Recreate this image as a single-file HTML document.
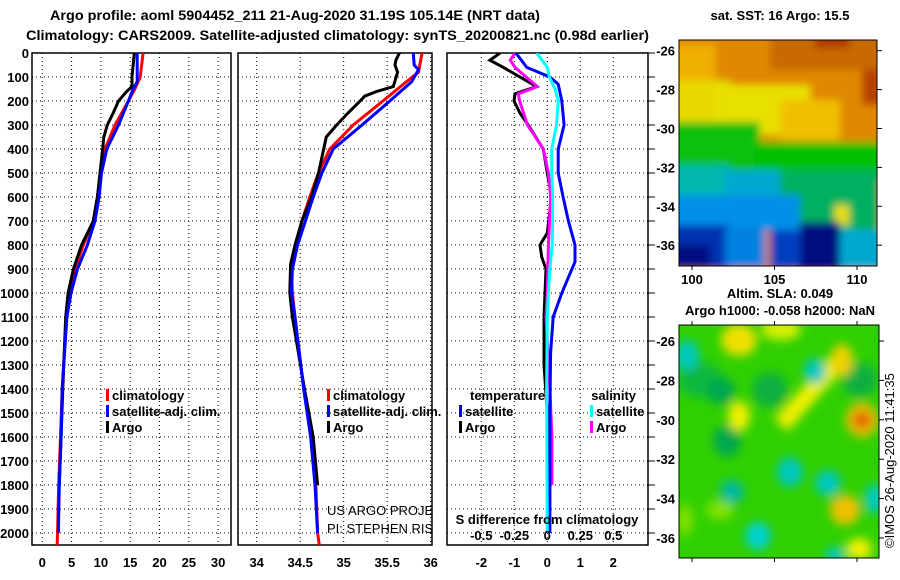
<!DOCTYPE html>
<html><head><meta charset="utf-8"><style>
html,body{margin:0;padding:0;background:#fff;}
svg{display:block;font-family:"Liberation Sans",sans-serif;}
.b{font-weight:bold;font-size:13px;}
</style></head><body>
<svg id="chart" width="900" height="580" viewBox="0 0 900 580" xmlns="http://www.w3.org/2000/svg">
<defs>
<filter id="blur1" x="-10%" y="-10%" width="120%" height="120%"><feGaussianBlur stdDeviation="4"/></filter>
<filter id="blur2" x="-10%" y="-10%" width="120%" height="120%"><feGaussianBlur stdDeviation="5"/></filter>
<clipPath id="cm1"><rect x="679" y="40" width="198" height="226"/></clipPath>
<clipPath id="cm2"><rect x="679" y="325" width="200" height="233"/></clipPath>
<clipPath id="cp1"><rect x="32" y="53" width="199" height="492"/></clipPath>
<clipPath id="cp2"><rect x="238" y="53" width="195" height="492"/></clipPath>
<clipPath id="cp3"><rect x="447" y="53" width="201" height="492"/></clipPath>
</defs>
<text x="50" y="20" class="b" style="font-size:14px" textLength="490" lengthAdjust="spacingAndGlyphs">Argo profile: aoml 5904452_211 21-Aug-2020 31.19S 105.14E (NRT data)</text>
<text x="26" y="40" class="b" style="font-size:14px" textLength="623" lengthAdjust="spacingAndGlyphs">Climatology: CARS2009. Satellite-adjusted climatology: synTS_20200821.nc (0.98d earlier)</text>

<!-- SST map -->
<g clip-path="url(#cm1)">
<g filter="url(#blur1)">
<rect x="670" y="30" width="220" height="250" fill="#e08800"/>
<rect x="770" y="30" width="120" height="40" fill="#c86a00"/>
<rect x="815" y="30" width="35" height="18" fill="#b03800"/>
<rect x="862" y="70" width="20" height="35" fill="#b84000"/>
<rect x="670" y="45" width="45" height="40" fill="#f0b000"/>
<rect x="670" y="80" width="60" height="50" fill="#e8d800"/>
<rect x="715" y="85" width="95" height="50" fill="#e8e000"/>
<rect x="780" y="100" width="60" height="40" fill="#f0c000"/>
<rect x="670" y="122" width="90" height="60" fill="#10c010"/>
<rect x="755" y="142" width="130" height="40" fill="#00c000"/>
<rect x="670" y="165" width="60" height="35" fill="#00b8b0"/>
<rect x="725" y="170" width="60" height="30" fill="#00a8d0"/>
<rect x="780" y="170" width="100" height="60" fill="#00b060"/>
<rect x="670" y="195" width="130" height="35" fill="#0090e8"/>
<rect x="835" y="205" width="14" height="20" fill="#e8e000"/>
<rect x="670" y="225" width="60" height="45" fill="#0030b0"/>
<rect x="670" y="245" width="40" height="25" fill="#001080"/>
<rect x="725" y="228" width="40" height="40" fill="#0080e0"/>
<rect x="770" y="230" width="30" height="40" fill="#0040c0"/>
<rect x="800" y="222" width="40" height="50" fill="#001080"/>
<rect x="840" y="230" width="45" height="40" fill="#00a8d0"/>
</g></g>
<rect x="679" y="40" width="198" height="226" fill="none" stroke="#000" stroke-width="1"/>
<text x="780" y="20" class="b" text-anchor="middle">sat. SST: 16 Argo: 15.5</text>

<!-- SLA map -->
<g clip-path="url(#cm2)">
<rect x="670" y="315" width="220" height="250" fill="#30d000"/>
<g filter="url(#blur2)">
<ellipse cx="700" cy="380" rx="22" ry="18" fill="#10b840"/>
<ellipse cx="721" cy="391" rx="14" ry="14" fill="#00a850"/>
<ellipse cx="727" cy="441" rx="14" ry="16" fill="#00a850"/>
<ellipse cx="770" cy="390" rx="18" ry="18" fill="#10b040"/>
<ellipse cx="860" cy="380" rx="18" ry="18" fill="#10b040"/>
<ellipse cx="739" cy="340" rx="18" ry="16" fill="#f0e000"/>
<ellipse cx="739" cy="416" rx="11" ry="15" fill="#f0f000"/>
<ellipse cx="781" cy="330" rx="20" ry="10" fill="#d8f000"/>
<line x1="842" y1="357" x2="781" y2="425" stroke="#f0f000" stroke-width="18"/>
<ellipse cx="842" cy="360" rx="11" ry="16" fill="#f0d000"/>
<ellipse cx="862" cy="420" rx="16" ry="17" fill="#f0c000"/>
<ellipse cx="862" cy="420" rx="9" ry="9" fill="#e06000"/>
<ellipse cx="845" cy="510" rx="15" ry="15" fill="#f0c000"/>
<ellipse cx="859" cy="549" rx="13" ry="11" fill="#f0f000"/>
<ellipse cx="687" cy="355" rx="12" ry="15" fill="#00c8c0"/>
<ellipse cx="815" cy="371" rx="11" ry="13" fill="#00c8c0"/>
<ellipse cx="790" cy="472" rx="13" ry="15" fill="#00c8c0"/>
<ellipse cx="828" cy="483" rx="13" ry="13" fill="#00c8c0"/>
<ellipse cx="732" cy="492" rx="12" ry="12" fill="#00b8a0"/>
<ellipse cx="758" cy="536" rx="13" ry="14" fill="#00d0d0"/>
<ellipse cx="874" cy="499" rx="9" ry="15" fill="#00c8c8"/>
<ellipse cx="835" cy="555" rx="10" ry="8" fill="#00c8c0"/>
<ellipse cx="720" cy="510" rx="14" ry="10" fill="#80e000"/>
<ellipse cx="685" cy="520" rx="8" ry="16" fill="#80e000"/>
</g></g>
<rect x="679" y="325" width="200" height="233" fill="none" stroke="#000" stroke-width="1"/>
<text x="780" y="298" class="b" text-anchor="middle">Altim. SLA: 0.049</text>
<text x="780" y="315" class="b" text-anchor="middle">Argo h1000: -0.058 h2000: NaN</text>
<text transform="translate(894,548) rotate(-90)" font-size="13">©IMOS 26-Aug-2020 11:41:35</text>

<g id="plots"></g>
</svg>
<script>
// ===== Data =====
const depthTicks = [0,100,200,300,400,500,600,700,800,900,1000,1100,1200,1300,1400,1500,1600,1700,1800,1900,2000];
const tTicks = [0,5,10,15,20,25,30];
const sTicks = [34,34.5,35,35.5,36];
const dTicks = [-2,-1,0,1,2];
const dsTickLabels = ["-0.5","-0.25","0","0.25","0.5"];

const tClimDepth = [0,100,150,200,300,400,500,600,700,800,900,1000,1100,1400,1600,1800,2000,2050];
const tClim = [17.2,16.7,15.8,14.7,12.4,10.7,10.0,9.4,8.7,7.0,5.6,4.7,4.1,3.4,3.1,2.8,2.6,2.55];
const tSatDepth = [0,120,150,200,300,400,500,600,700,800,900,1000,1100,1400,1600,1800,2000];
const tSat = [16.2,16.2,15.5,14.7,13.0,11.0,10.1,9.7,9.0,7.7,6.0,4.9,4.2,3.4,3.2,2.9,2.75];
const tArgoDepth = [0,100,140,160,200,250,300,350,400,500,600,700,800,850,900,1000,1100,1400,1600,1800];
const tArgo = [15.7,15.3,15.3,14.4,13.0,12.1,11.1,10.5,10.3,9.85,9.4,8.7,6.7,6.0,5.3,4.4,4.0,3.5,3.2,2.9];

const sClimDepth = [0,80,120,200,300,400,500,600,700,800,900,1000,1100,1400,1600,1800,2000,2050];
const sClim = [35.90,35.86,35.72,35.45,35.11,34.84,34.71,34.61,34.52,34.45,34.40,34.41,34.44,34.54,34.63,34.68,34.70,34.72];
const sSatDepth = [0,50,70,120,200,300,400,500,600,700,800,900,1000,1100,1400,1600,1800,2000];
const sSat = [35.80,35.81,35.86,35.78,35.53,35.21,34.88,34.75,34.65,34.56,34.47,34.41,34.40,34.44,34.54,34.62,34.67,34.70];
const sArgoDepth = [0,30,50,80,140,160,180,200,250,300,350,400,500,600,700,800,880,1000,1100,1400,1600,1800];
const sArgo = [35.64,35.60,35.59,35.62,35.57,35.38,35.24,35.19,35.05,34.92,34.80,34.77,34.71,34.63,34.52,34.44,34.39,34.38,34.41,34.55,34.65,34.70];

const dtArgoDepth = [0,30,60,100,140,170,200,250,300,400,500,600,750,800,850,900,1000,1100,1300,1500,1800];
const dtArgo = [-1.43,-1.74,-1.33,-0.83,-0.32,-0.98,-1.01,-0.83,-0.58,-0.12,0,0.13,0,-0.22,-0.17,-0.04,-0.07,-0.1,-0.1,0,0.05];
const dsArgoDepth = [0,30,60,100,140,170,200,300,400,500,600,800,1000,1100,1400,1600,1800];
const dsArgo = [-0.245,-0.28,-0.245,-0.16,-0.076,-0.22,-0.21,-0.15,-0.03,0.008,0.026,0.008,0,-0.01,0.02,0.035,0.035];
const dtSatDepth = [0,60,100,130,200,300,400,500,600,700,800,870,1000,1100,1250,1500,2000];
const dtSat = [-0.95,-0.62,0.08,0.33,0.44,0.51,0.33,0.33,0.48,0.64,0.84,0.84,0.44,0.18,0.1,0.08,0.08];
const dsSatDepth = [0,60,100,150,200,300,400,500,600,700,800,900,1000,1100,1400,2000];
const dsSat = [-0.08,0,0.015,0.058,0.083,0.07,0.033,0.033,0.04,0.04,0.037,0.02,0.008,0,-0.005,0];

const mapLats = ["-26","-28","-30","-32","-34","-36"];
const mapLons = ["100","105","110"];

// ===== Scales =====
const Y = d => 53 + d*0.24;
const XT = t => 42.3 + t*5.86;
const XS = s => 256.7 + (s-34)*87;
const XD = v => 547.3 + v*33;
const XDS = v => 547.3 + v*132;
const NS = "http://www.w3.org/2000/svg";
const root = document.getElementById('plots');
function mk(tag, attrs, parent){
  const e = document.createElementNS(NS, tag);
  for (const k in attrs) e.setAttribute(k, attrs[k]);
  (parent||root).appendChild(e); return e;
}
function line(depths, vals, X, color, name, clip){
  const d = vals.map((v,i)=>(i?'L':'M')+X(v).toFixed(1)+','+Y(depths[i]).toFixed(1)).join('');
  const p = mk('path',{d:d,fill:'none',stroke:color,'stroke-width':3,'clip-path':'url(#'+clip+')'});
  
  
}
function panel(x0,x1,xt,X,labels,name,clip){
  const g = mk('g',{});
  
  
  depthTicks.forEach(d=>{
    mk('line',{x1:x0,x2:x1,y1:Y(d),y2:Y(d),stroke:'#000','stroke-width':1,'stroke-dasharray':'1,3'},g);
  });
  xt.forEach((v,i)=>{
    mk('line',{x1:X(v),x2:X(v),y1:53,y2:545,stroke:'#000','stroke-width':1,'stroke-dasharray':'1,3'},g);
    const t = mk('text',{x:X(v),y:567,'text-anchor':'middle','class':'b'},g);
    t.textContent = labels[i];
    
    
  });
  mk('rect',{x:x0,y:53,width:x1-x0,height:492,fill:'none',stroke:'#000','stroke-width':1.5},g);
  return g;
}
panel(32,231,tTicks,XT,tTicks.map(String),'temperature-panel','cp1');
panel(238,432,sTicks,XS,sTicks.map(String),'salinity-panel','cp2');
panel(447,648,dTicks,XD,dTicks.map(String),'difference-panel','cp3');
depthTicks.forEach(d=>{ mk('line',{x1:648,x2:655,y1:Y(d),y2:Y(d),stroke:'#000','stroke-width':1}); });

depthTicks.forEach(d=>{
  const t = mk('text',{x:29,y:Y(d)+5,'text-anchor':'end','class':'b'});
  t.textContent = d;
  
  
});

line(tClimDepth,tClim,XT,'#ff0000','temp-climatology-line','cp1');
line(tArgoDepth,tArgo,XT,'#000000','temp-argo-line','cp1');
line(tSatDepth,tSat,XT,'#0000ff','temp-satellite-line','cp1');
line(sClimDepth,sClim,XS,'#ff0000','sal-climatology-line','cp2');
line(sArgoDepth,sArgo,XS,'#000000','sal-argo-line','cp2');
line(sSatDepth,sSat,XS,'#0000ff','sal-satellite-line','cp2');
line(dtArgoDepth,dtArgo,XD,'#000000','dtemp-argo-line','cp3');
line(dsArgoDepth,dsArgo,XDS,'#ff00ff','dsal-argo-line','cp3');
line(dtSatDepth,dtSat,XD,'#0000ff','dtemp-satellite-line','cp3');
line(dsSatDepth,dsSat,XDS,'#00ffff','dsal-satellite-line','cp3');

function legend(x,y,color,label){
  const g = mk('g',{});
  
  
  mk('rect',{x:x,y:y-11,width:3,height:12,fill:color},g);
  const t = mk('text',{x:x+6,y:y,'class':'b','font-size':'12'},g);
  t.textContent = label;
}
legend(106,400,'#ff0000','climatology');
legend(106,416,'#0000ff','satellite-adj. clim.');
legend(106,432,'#000000','Argo');
legend(327,400,'#ff0000','climatology');
legend(327,416,'#0000ff','satellite-adj. clim.');
legend(327,432,'#000000','Argo');
legend(459,416,'#0000ff','satellite');
legend(459,432,'#000000','Argo');
legend(590,416,'#00ffff','satellite');
legend(590,432,'#ff00ff','Argo');
const extra = [[470,400,'temperature','start'],[636,400,'salinity','end'],[547,524,'S difference from climatology','middle']];
extra.forEach(e=>{
  const t = mk('text',{x:e[0],y:e[1],'class':'b','font-size':'12','text-anchor':e[3]});
  t.textContent = e[2];
  
  
});
[-0.5,-0.25,0,0.25,0.5].forEach((v,i)=>{
  const t = mk('text',{x:XDS(v),y:540,'class':'b','font-size':'12','text-anchor':'middle'});
  t.textContent = dsTickLabels[i];
  
  
});
[['US ARGO PROJECT',515],['PI: STEPHEN RISER',533]].forEach(a=>{
  const t = mk('text',{x:327,y:a[1],'font-size':'13','clip-path':'url(#cp2)'});
  t.textContent = a[0];
  
  
});

mapLats.forEach((l,i)=>{
  const y1 = 50.7 + i*38.9, y2 = 341 + i*39.4;
  mk('line',{x1:877,x2:882,y1:y1,y2:y1,stroke:'#000'});
  mk('line',{x1:879,x2:884,y1:y2,y2:y2,stroke:'#000'});
  const a = mk('text',{x:675,y:y1+5,'text-anchor':'end','class':'b'}); a.textContent = l;
  
  
  const b = mk('text',{x:675,y:y2+5,'text-anchor':'end','class':'b'}); b.textContent = l;
  
  
});
mapLons.forEach((l,i)=>{
  const x = 692 + i*82.5;
  mk('line',{x1:x,x2:x,y1:266,y2:270,stroke:'#000'});
  mk('line',{x1:x,x2:x,y1:558,y2:562,stroke:'#000'});
  mk('line',{x1:x,x2:x,y1:321,y2:325,stroke:'#000'});
  const t = mk('text',{x:x,y:284,'text-anchor':'middle','class':'b'}); t.textContent = l;
  
  
});
</script>
</body></html>
